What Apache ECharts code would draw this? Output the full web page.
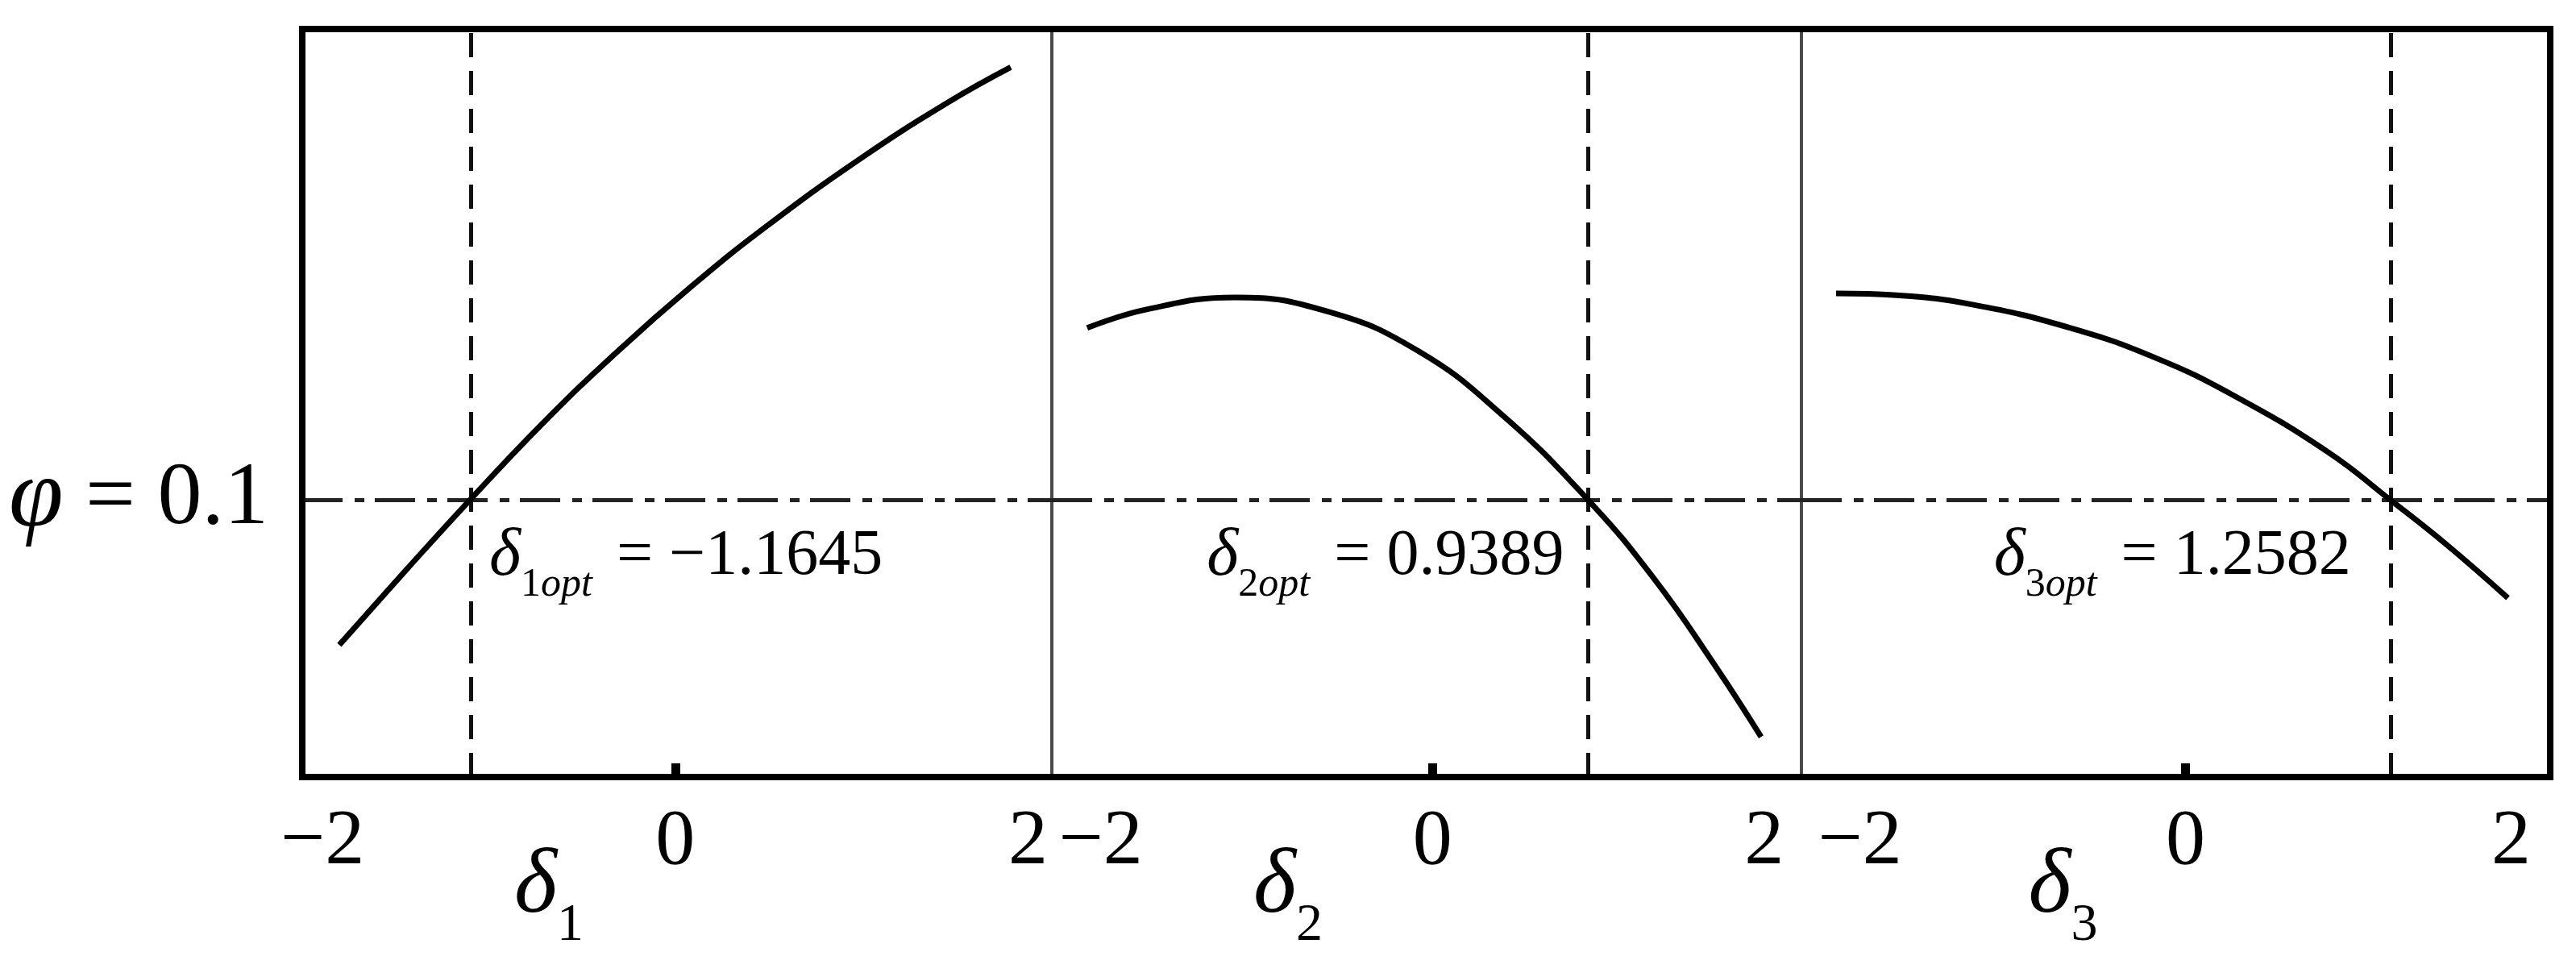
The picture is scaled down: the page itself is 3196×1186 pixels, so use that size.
<!DOCTYPE html>
<html>
<head>
<meta charset="utf-8">
<script src="https://cdn.jsdelivr.net/npm/echarts@6/dist/echarts.min.js"></script>
<style>
  html, body { margin: 0; padding: 0; background: #fff; }
  #chart { width: 3196px; height: 1186px; }
</style>
</head>
<body>
<div id="chart"></div>
<script>
// ---------- data ----------
const xTickValues = [-2, 0, 2];
const phiLevel = 0.1;

const delta1X   = [-1.905, -1.521, -1.1645, -0.753, -0.328, 0.097, 0.517, 1.056, 1.554, 1.902];
const delta1Phi = [0.0477, 0.0751, 0.1, 0.1276, 0.1536, 0.1774, 0.1988, 0.2235, 0.2438, 0.2562];

const delta2X   = [-2.082, -1.724, -1.189, -0.624, -0.089, 0.417, 0.9389, 1.340, 1.700, 1.982];
const delta2Phi = [0.1621, 0.1688, 0.1731, 0.1679, 0.1539, 0.1309, 0.1, 0.0713, 0.0406, 0.0145];

const delta3X   = [-2.147, -1.776, -1.316, -0.708, -0.189, 0.296, 0.875, 1.2582, 1.609, 1.980];
const delta3Phi = [0.1746, 0.1739, 0.1706, 0.1621, 0.1514, 0.1377, 0.1173, 0.1, 0.0836, 0.0646];

const optValues = [-1.1645, 0.9389, 1.2582];
const optTexts  = ['\u22121.1645', '0.9389', '1.2582'];
const axisSubs  = ['1', '2', '3'];
const phiLabel  = '0.1';

// ---------- layout / style ----------
const FONT = '"Liberation Serif", "Times New Roman", serif';
const panels = [
  { x: delta1X, y: delta1Phi, min: -2.115, max: 2.135, left: 375,  width: 930, nameShift: 318, labelPos: 'right', labelOff: [19, 80] },
  { x: delta2X, y: delta2Phi, min: -2.295, max: 2.225, left: 1305, width: 930, nameShift: 344, labelPos: 'left',  labelOff: [-25, 80] },
  { x: delta3X, y: delta3Phi, min: -2.36,  max: 2.24,  left: 2235, width: 929, nameShift: 280, labelPos: 'left',  labelOff: [-44, 80] }
];
const TOP = 36, HEIGHT = 928;
const Y_MIN = 0, Y_MAX = 0.27;

const grids = [], xAxes = [], yAxes = [], series = [];

panels.forEach((p, i) => {
  grids.push({ left: p.left, top: TOP, width: p.width, height: HEIGHT, show: true,
               outerBoundsMode: 'none', containLabel: false,
               borderColor: '#4a4a4a', borderWidth: 4, backgroundColor: 'transparent' });
  xAxes.push({
    type: 'value', gridIndex: i, min: p.min, max: p.max,
    splitLine: { show: false },
    axisLine: { show: false },
    axisTick: { show: true, inside: true, length: 17, customValues: [0],
                lineStyle: { color: '#000', width: 11 } },
    axisLabel: { show: true, customValues: xTickValues, margin: 32,
                 fontFamily: FONT, fontSize: 98, color: '#000',
                 formatter: v => (v < 0 ? '\u2212' + Math.abs(v) : String(v)) },
    name: '{d|\u03b4}{s|' + axisSubs[i] + '}',
    nameLocation: 'middle', nameGap: 80, nameMoveOverlap: false,
    nameTextStyle: {
      padding: [0, p.nameShift, 0, 0],
      rich: {
        d: { fontFamily: FONT, fontStyle: 'italic', fontSize: 114, color: '#000', padding: [0, 0, 24, 0] },
        s: { fontFamily: FONT, fontSize: 66, color: '#000', verticalAlign: 'bottom' }
      }
    }
  });
  yAxes.push({
    type: 'value', gridIndex: i, min: Y_MIN, max: Y_MAX,
    splitLine: { show: false }, axisLine: { show: false }, axisTick: { show: false },
    axisLabel: i === 0 ? {
      show: true, customValues: [phiLevel], margin: 42,
      formatter: () => '{p|\u03c6}{e| = ' + phiLabel + '}',
      rich: {
        p: { fontFamily: FONT, fontStyle: 'italic', fontSize: 122, color: '#000' },
        e: { fontFamily: FONT, fontSize: 110, color: '#000' }
      }
    } : { show: false }
  });
  const opt = optValues[i];
  series.push({
    type: 'line', xAxisIndex: i, yAxisIndex: i,
    data: p.x.map((v, k) => [v, p.y[k]]),
    showSymbol: false, smooth: 0.45,
    lineStyle: { color: '#000', width: 7 },
    z: 5,
    markLine: {
      silent: true, symbol: 'none', animation: false,
      label: { show: false },
      data: [
        { xAxis: opt, lineStyle: { type: [30, 17], color: '#111', width: 5 } },
        { yAxis: phiLevel, lineStyle: { type: [50, 15, 12, 13], color: '#222', width: 5 } }
      ]
    },
    markPoint: {
      silent: true, animation: false, symbol: 'circle', symbolSize: 0,
      data: [{ coord: [opt, phiLevel] }],
      label: {
        show: true, position: p.labelPos, offset: p.labelOff,
        formatter: () => '{d|\u03b4}{s|' + axisSubs[i] + '}{o|opt}{e| = ' + optTexts[i] + '}',
        rich: {
          d: { fontFamily: FONT, fontStyle: 'italic', fontSize: 84, color: '#000', padding: [0, 0, 18, 0] },
          s: { fontFamily: FONT, fontSize: 50, color: '#000', verticalAlign: 'bottom' },
          o: { fontFamily: FONT, fontStyle: 'italic', fontSize: 50, color: '#000', verticalAlign: 'bottom' },
          e: { fontFamily: FONT, fontSize: 80, color: '#000', padding: [0, 0, 18, 10] }
        }
      }
    }
  });
});

// outer frame
grids.push({ left: 375, top: TOP, width: 2789, height: HEIGHT, show: true,
             outerBoundsMode: 'none', containLabel: false,
             borderColor: '#000', borderWidth: 8, backgroundColor: 'transparent', z: 10 });
xAxes.push({ type: 'value', gridIndex: 3, show: false, min: 0, max: 1 });
yAxes.push({ type: 'value', gridIndex: 3, show: false, min: 0, max: 1 });

const chart = echarts.init(document.getElementById('chart'), null, { renderer: 'canvas' });
chart.setOption({
  animation: false,
  backgroundColor: '#fff',
  grid: grids, xAxis: xAxes, yAxis: yAxes, series: series
});
</script>
</body>
</html>
